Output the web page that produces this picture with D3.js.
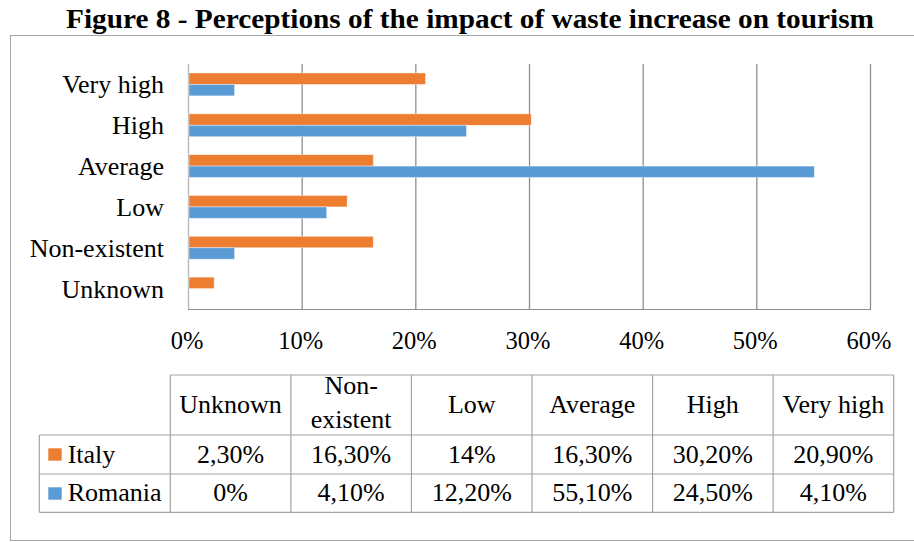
<!DOCTYPE html>
<html>
<head>
<meta charset="utf-8">
<script src="https://cdn.jsdelivr.net/npm/d3@7"></script>
<style>
  html, body { margin: 0; padding: 0; background: #fff; }
  svg { display: block; }
  text { font-family: "Liberation Serif", "Times New Roman", serif; fill: #000; }
</style>
</head>
<body>
<svg id="chart" width="914" height="542"></svg>
<script>
// ---- data ----
const title = "Figure 8 - Perceptions of the impact of waste increase on tourism";
const categories = ["Unknown", "Non-existent", "Low", "Average", "High", "Very high"];
const tableHeaders = [["Unknown"], ["Non-", "existent"], ["Low"], ["Average"], ["High"], ["Very high"]];
const seriesNames = ["Italy", "Romania"];
const italyValues = [2.3, 16.3, 14, 16.3, 30.2, 20.9];
const romaniaValues = [0, 4.1, 12.2, 55.1, 24.5, 4.1];
const seriesColors = ["#ED7D31", "#5B9BD5"];
const xTicks = [0, 10, 20, 30, 40, 50, 60];

const seriesValues = [italyValues, romaniaValues];

const svg = d3.select("#chart");

// outer frame
svg.append("rect")
  .attr("x", 10.5).attr("y", 35.5).attr("width", 920).attr("height", 505)
  .attr("fill", "none").attr("stroke", "#a6a6a6").attr("stroke-width", 1);

// title
svg.append("text")
  .attr("x", 66).attr("y", 28)
  .attr("font-size", 28).attr("font-weight", "bold")
  .attr("textLength", 808).attr("lengthAdjust", "spacingAndGlyphs")
  .text(title);

// scales
const x = d3.scaleLinear().domain([0, 60]).range([188, 870]);
const yOrder = categories.slice().reverse(); // Very high on top
const y = d3.scaleBand().domain(yOrder).range([64, 309]).paddingInner(0.44).paddingOuter(0.22);
const ySub = d3.scaleBand().domain(seriesNames).range([0, y.bandwidth()]);

// gridlines
svg.append("g").selectAll("line").data(xTicks).join("line")
  .attr("x1", d => x(d) + 0.5).attr("x2", d => x(d) + 0.5)
  .attr("y1", 64).attr("y2", 309)
  .attr("stroke", (d, i) => i === 0 ? "#b5b5b5" : "#8f8f8f").attr("stroke-width", 1.3);

// bars
const rows = categories.map((c, i) => ({ cat: c, vals: seriesNames.map((s, j) => ({ s, j, v: seriesValues[j][i] })) }));
const g = svg.append("g");
rows.forEach(r => {
  g.selectAll(null).data(r.vals.filter(d => d.v > 0)).join("rect")
    .attr("x", x(0) + 1)
    .attr("y", d => y(r.cat) + ySub(d.s))
    .attr("width", d => x(d.v) - x(0) - 1)
    .attr("height", ySub.bandwidth())
    .attr("fill", d => seriesColors[d.j])
    .attr("stroke", "#ffffff").attr("stroke-opacity", 0.5).attr("stroke-width", 0.8);
});

// bottom axis line
svg.append("line").attr("x1", 188).attr("x2", 871).attr("y1", 309.5).attr("y2", 309.5)
  .attr("stroke", "#8f8f8f").attr("stroke-width", 1.2);

// category labels
svg.append("g").selectAll("text").data(yOrder).join("text")
  .attr("x", 164).attr("y", d => y(d) + y.bandwidth() / 2 + 9)
  .attr("text-anchor", "end").attr("font-size", 26)
  .text(d => d);

// tick labels
svg.append("g").selectAll("text").data(xTicks).join("text")
  .attr("x", d => x(d) - 1).attr("y", 349)
  .attr("text-anchor", "middle").attr("font-size", 24.5)
  .text(d => d + "%");

// ---- data table ----
const col = d3.scaleBand().domain(categories).range([170.3, 893.7]);
const tTop = 375, tHead = 435, tRow1 = 474, tBot = 512.3, tLeft = 39.3;
const lineColor = "#a3a3a3";
const tg = svg.append("g").attr("stroke", lineColor).attr("stroke-width", 1.2);
// horizontals
tg.append("line").attr("x1", col.range()[0]).attr("x2", col.range()[1]).attr("y1", tTop).attr("y2", tTop);
[tHead, tRow1, tBot].forEach(yy => tg.append("line").attr("x1", tLeft).attr("x2", col.range()[1]).attr("y1", yy).attr("y2", yy));
// verticals
tg.append("line").attr("x1", tLeft).attr("x2", tLeft).attr("y1", tHead).attr("y2", tBot);
categories.forEach(c => tg.append("line").attr("x1", col(c)).attr("x2", col(c)).attr("y1", tTop).attr("y2", tBot));
tg.append("line").attr("x1", col.range()[1]).attr("x2", col.range()[1]).attr("y1", tTop).attr("y2", tBot);

// headers
categories.forEach((c, i) => {
  const lines = tableHeaders[i];
  const cx = col(c) + col.bandwidth() / 2;
  const baselines = lines.length === 1 ? [413] : [394, 428];
  lines.forEach((l, k) => svg.append("text").attr("x", cx).attr("y", baselines[k])
    .attr("text-anchor", "middle").attr("font-size", 26).text(l));
});

const fmt = v => (Number.isInteger(v) ? String(v) : v.toFixed(2).replace(".", ",")) + "%";
const rowBase = [462.5, 501];
const rowTop = [tHead, tRow1];
seriesNames.forEach((s, j) => {
  svg.append("rect").attr("x", 48.3).attr("y", rowTop[j] + 13.3).attr("width", 13.4).attr("height", 12.4)
    .attr("fill", seriesColors[j]);
  svg.append("text").attr("x", 67.7).attr("y", rowBase[j]).attr("font-size", 26).text(s);
  svg.append("g").selectAll("text").data(categories).join("text")
    .attr("x", (d) => col(d) + col.bandwidth() / 2)
    .attr("y", rowBase[j])
    .attr("text-anchor", "middle").attr("font-size", 26)
    .text((d, i) => fmt(seriesValues[j][i]));
});
</script>
</body>
</html>
